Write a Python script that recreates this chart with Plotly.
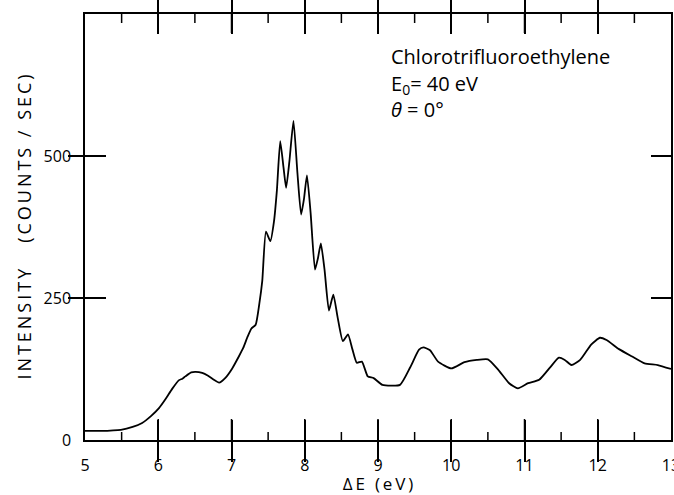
import plotly.graph_objects as go

# Energy loss (eV) and intensity (counts/sec)
energy = [5.0, 5.2, 5.49, 5.65, 5.78, 5.9, 6.01, 6.1, 6.19, 6.28, 6.33, 6.37, 6.45, 6.51,
          6.6, 6.68, 6.76, 6.83, 6.92, 7.01, 7.1, 7.16, 7.22, 7.27, 7.33, 7.38, 7.42, 7.47,
          7.53, 7.58, 7.62, 7.665, 7.71, 7.746, 7.79, 7.846, 7.9, 7.95, 7.99, 8.03, 8.08,
          8.14, 8.18, 8.22, 8.27, 8.33, 8.39, 8.45, 8.52, 8.59, 8.65, 8.71, 8.78, 8.86,
          8.94, 9.06, 9.3, 9.44, 9.56, 9.62, 9.71, 9.82, 10.0, 10.18, 10.35, 10.5, 10.64,
          10.79, 10.91, 11.05, 11.2, 11.35, 11.47, 11.55, 11.64, 11.76, 11.91, 12.03,
          12.12, 12.29, 12.47, 12.64, 12.82, 13.0]
intensity = [16, 16, 18, 23, 30, 42, 56, 72, 90, 105, 108, 112, 119, 120,
             118, 113, 106, 101, 110, 126, 147, 162, 182, 196, 203, 240, 280, 367,
             350, 385, 440, 526, 480, 444, 490, 562, 470, 397, 425, 466, 400,
             300, 320, 346, 300, 228, 256, 215, 174, 186, 160, 136, 138, 112,
             109, 97, 97, 128, 159, 163, 158, 138, 126, 137, 141, 142, 124,
             100, 91, 100, 106, 128, 145, 141, 132, 141, 168, 180,
             176, 160, 147, 135, 132, 125]

x_labels = [5, 6, 7, 8, 9, 10, 11, 12, 13]
x_major_marks = [6, 7, 8, 9, 10, 11, 12]
x_minor_marks = [5.5, 6.5, 7.5, 8.5, 9.5, 10.5, 11.5, 12.5]
y_ticks = [0, 250, 500]
y_marks = [250, 500]

X_RANGE = [5, 13]
Y_RANGE = [0, 750]

W, H = 674, 495
M_L, M_R, M_T, M_B = 85, 3, 14, 55
PLOT_H = H - M_T - M_B
PX = (Y_RANGE[1] - Y_RANGE[0]) / PLOT_H  # data units per pixel (vertical)

FONT = "Open Sans, Liberation Sans, Arial, sans-serif"
TS = "\u2009"

def spaced(s):
    return TS.join(list(s))

# inward x-axis tick marks on the bottom and top frame edges
tick_x, tick_y = [], []
for marks, bottom_len, top_len in [(x_major_marks, 21, 19), (x_minor_marks, 8, 9)]:
    for v in marks:
        tick_x += [v, v, None, v, v, None]
        tick_y += [Y_RANGE[0], Y_RANGE[0] + bottom_len * PX, None,
                   Y_RANGE[1], Y_RANGE[1] - top_len * PX, None]

fig = go.Figure()
fig.add_trace(go.Scatter(x=tick_x, y=tick_y, mode="lines", connectgaps=False,
                         line=dict(color="black", width=1.5),
                         hoverinfo="skip", showlegend=False))
fig.add_trace(go.Scatter(x=energy, y=intensity, mode="lines",
                         line=dict(color="black", width=1.8, shape="spline", smoothing=0.5),
                         hoverinfo="skip", showlegend=False))
# invisible carriers for the y tick-mark axes
for ya in ["y2", "y3", "y4"]:
    fig.add_trace(go.Scatter(x=energy, y=intensity, yaxis=ya, mode="lines",
                             line=dict(width=0, color="rgba(0,0,0,0)"),
                             hoverinfo="skip", showlegend=False))

def ytick_axis(side, ticks, ln):
    return dict(range=Y_RANGE, overlaying="y", side=side, tickvals=y_marks,
                ticks=ticks, ticklen=ln, tickwidth=1.5, tickcolor="black",
                showticklabels=False, showline=False, showgrid=False, zeroline=False,
                automargin=False)

fig.update_layout(
    width=W, height=H,
    margin=dict(l=M_L, r=M_R, t=M_T, b=M_B),
    paper_bgcolor="white", plot_bgcolor="white",
    font=dict(family=FONT, color="black", size=15),
    xaxis=dict(range=X_RANGE, tickvals=x_labels, ticks="inside", ticklen=20,
               tickwidth=1.5, tickcolor="black",
               showline=True, linecolor="black", linewidth=1.5,
               mirror="allticks", showgrid=False, zeroline=False, automargin=False,
               tickfont=dict(size=16), ticklabeloverflow="allow", ticklabelstandoff=10,
               title=dict(text=spaced("ΔE (eV)"), font=dict(size=17), standoff=17)),
    yaxis=dict(range=Y_RANGE, tickvals=y_ticks, ticks="", showline=True,
               linecolor="black", linewidth=1.5, mirror=True, showgrid=False,
               zeroline=False, automargin=False, ticklabelstandoff=9,
               tickfont=dict(size=16),
               title=dict(text=spaced("INTENSITY   (COUNTS / SEC)"), font=dict(size=18),
                          standoff=7)),
    yaxis2=ytick_axis("left", "outside", 16),
    yaxis3=ytick_axis("left", "inside", 21),
    yaxis4=ytick_axis("right", "inside", 20),
    showlegend=False,
)

ann_lines = ["Chlorotrifluoroethylene", "E<sub>0</sub>= 40 eV", "<i>θ</i> = 0°"]
ann_y = [675, 626, 581]
for txt, yy in zip(ann_lines, ann_y):
    fig.add_annotation(x=9.15, y=yy, xref="x", yref="y", text=txt, showarrow=False,
                       xanchor="left", yanchor="middle", font=dict(size=20, family=FONT))

fig.write_html("out.html")
